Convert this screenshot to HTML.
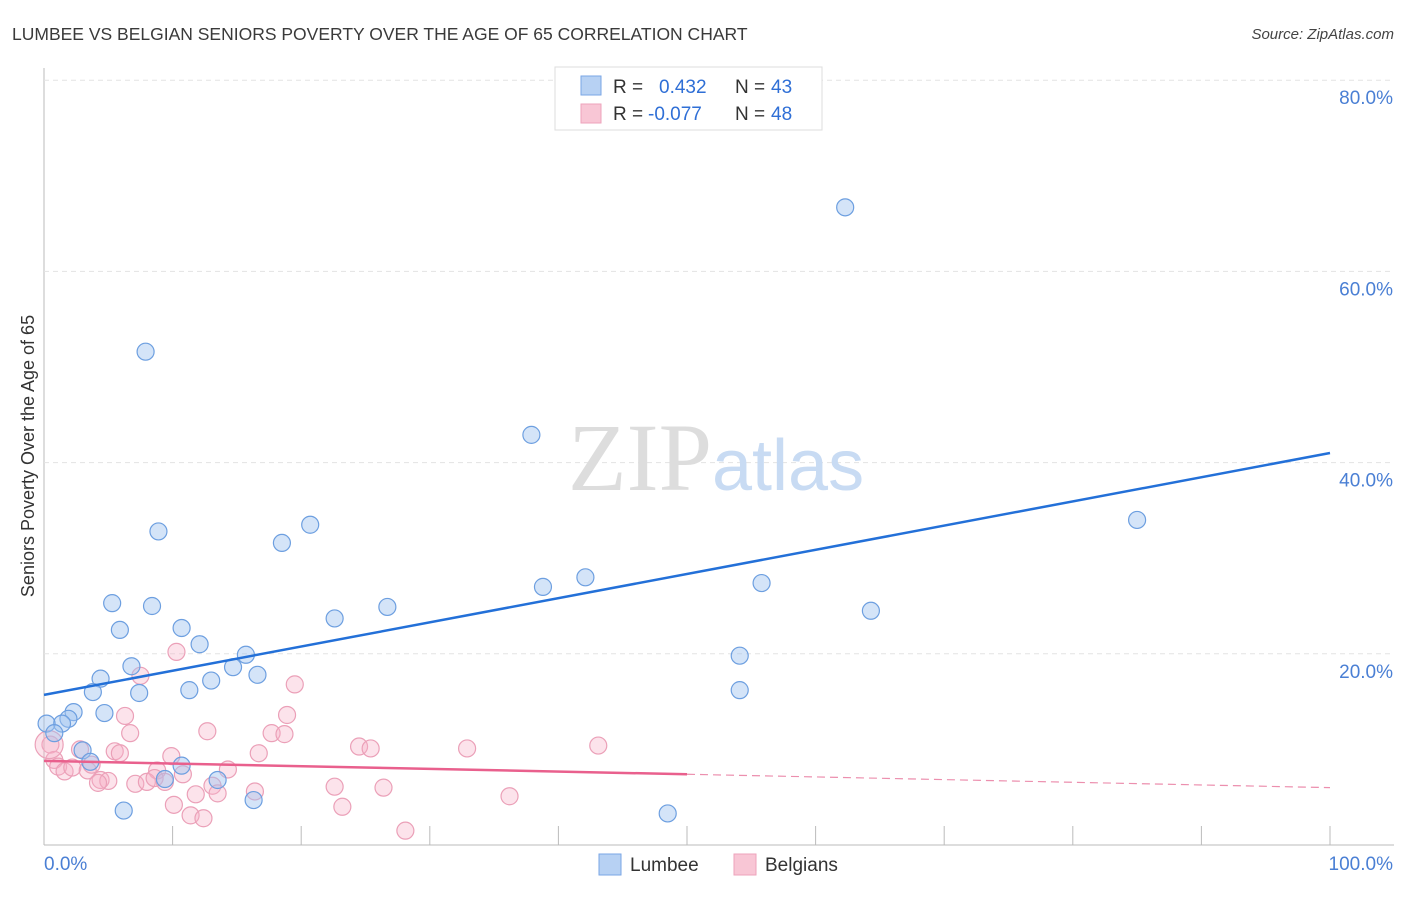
<!DOCTYPE html>
<html><head><meta charset="utf-8"><style>
body{margin:0;background:#fff;font-family:"Liberation Sans",sans-serif}
</style></head><body>
<svg width="1406" height="892" viewBox="0 0 1406 892" xmlns="http://www.w3.org/2000/svg">
<text x="12" y="40" font-size="17.5" fill="#3a3a3a">LUMBEE VS BELGIAN SENIORS POVERTY OVER THE AGE OF 65 CORRELATION CHART</text>
<text x="1394" y="39" font-size="15" fill="#444" font-style="italic" text-anchor="end">Source: ZipAtlas.com</text>
<g id="grid"></g>
<text x="712" y="490" font-size="96" fill="#ddd" text-anchor="end" font-family="Liberation Serif">ZIP</text>
<text x="712" y="490" font-size="72" fill="#c8dbf3">atlas</text>
<text transform="translate(34,456) rotate(-90)" font-size="18" fill="#333" text-anchor="middle">Seniors Poverty Over the Age of 65</text>
<g id="pts"></g>
<g id="lines"></g>
<g>
<rect x="555" y="67" width="267" height="63" fill="#fff" stroke="#ddd"/>
<rect x="581" y="76" width="20" height="19" fill="#b7d1f3" stroke="#7aa6e6"/>
<rect x="581" y="104" width="20" height="19" fill="#f8c6d5" stroke="#eea3bb"/>
<text x="613" y="93" font-size="19" fill="#333">R =</text>
<text x="659" y="93" font-size="19" fill="#2f6fd6">0.432</text>
<text x="735" y="93" font-size="19" fill="#333">N =</text>
<text x="771" y="93" font-size="19" fill="#2f6fd6">43</text>
<text x="613" y="120" font-size="19" fill="#333">R =</text>
<text x="648" y="120" font-size="19" fill="#2f6fd6">-0.077</text>
<text x="735" y="120" font-size="19" fill="#333">N =</text>
<text x="771" y="120" font-size="19" fill="#2f6fd6">48</text>
</g>
<g>
<rect x="599" y="854" width="22" height="21" fill="#b7d1f3" stroke="#7aa6e6"/>
<text x="630" y="871" font-size="19" fill="#333">Lumbee</text>
<rect x="734" y="854" width="22" height="21" fill="#f8c6d5" stroke="#eea3bb"/>
<text x="765" y="871" font-size="19" fill="#333">Belgians</text>
</g>
</svg>
<script>
const yTicks=[20,40,60,80];
const xTickLabels=["0.0%","100.0%"];
const lumbeeX=[7.9,62.3,37.9,85.0,8.9,20.7,18.5,38.8,42.1,55.8,64.3,5.3,8.4,22.6,26.7,5.9,10.7,12.1,15.7,6.8,54.1,14.7,16.6,4.4,13.0,3.8,7.4,11.3,54.1,2.3,4.7,1.9,1.4,0.2,0.8,3.0,3.6,10.7,9.4,13.5,16.3,6.2,48.5];
const lumbeeY=[51.6,66.7,42.9,34.0,32.8,33.5,31.6,27.0,28.0,27.4,24.5,25.3,25.0,23.7,24.9,22.5,22.7,21.0,19.9,18.7,19.8,18.6,17.8,17.4,17.2,16.0,15.9,16.2,16.2,13.9,13.8,13.2,12.7,12.7,11.7,9.9,8.7,8.3,6.9,6.8,4.7,3.6,3.3];
const belgX=[7.5,10.3,19.5,6.3,12.7,18.9,17.7,18.7,6.7,0.5,2.8,5.5,5.9,9.9,16.7,24.5,25.4,32.9,43.1,0.8,1.1,1.6,2.2,3.4,3.7,8.8,10.8,14.3,4.4,5.0,4.2,7.1,8.0,8.6,9.4,13.1,13.5,16.4,22.6,26.4,11.8,10.1,23.2,36.2,11.4,12.4,28.1,0.4];
const belgY=[17.7,20.2,16.8,13.5,11.9,13.6,11.7,11.6,11.7,10.5,10.0,9.8,9.6,9.3,9.6,10.3,10.1,10.1,10.4,8.9,8.2,7.7,8.1,7.8,8.4,7.8,7.4,7.9,6.8,6.7,6.5,6.4,6.6,7.0,6.6,6.2,5.4,5.6,6.1,6.0,5.3,4.2,4.0,5.1,3.1,2.8,1.5,10.5];
const lumbeeTrend=[15.7,41.0];
const belgTrend=[8.8,6.0];
const NS="http://www.w3.org/2000/svg";
const X=v=>44+v*12.86, Y=v=>845-v*9.56;
function mk(t,a,p){const e=document.createElementNS(NS,t);for(const k in a)e.setAttribute(k,a[k]);p.appendChild(e);return e;}
const grid=document.getElementById('grid');
mk('line',{x1:44,y1:68,x2:44,y2:845,stroke:'#bbb'},grid);
mk('line',{x1:44,y1:845,x2:1394,y2:845,stroke:'#bbb'},grid);
for(let i=0;i<=10;i++){const l=mk('line',{x1:X(i*10),y1:826,x2:X(i*10),y2:845,stroke:'#bbb'},grid);

}
yTicks.forEach(v=>{const l=mk('line',{x1:44,y1:Y(v),x2:1394,y2:Y(v),stroke:'#e3e3e3','stroke-dasharray':'5,4'},grid);


const t=mk('text',{x:1393,y:Y(v)+24,'font-size':19,fill:'#4a7fd4','text-anchor':'end'},grid);t.textContent=v.toFixed(1)+'%';

});
let t0=mk('text',{x:44,y:870,'font-size':19,fill:'#4a7fd4'},grid);t0.textContent=xTickLabels[0];


let t1=mk('text',{x:1393,y:870,'font-size':19,fill:'#4a7fd4','text-anchor':'end'},grid);t1.textContent=xTickLabels[1];


const pts=document.getElementById('pts');
belgX.forEach((x,i)=>{const c=mk('circle',{cx:X(x),cy:Y(belgY[i]),r:i==belgX.length-1?14:8.5,fill:'rgba(246,175,198,0.35)',stroke:'#eba0b8','stroke-width':1.2},pts);

});
lumbeeX.forEach((x,i)=>{const c=mk('circle',{cx:X(x),cy:Y(lumbeeY[i]),r:8.5,fill:'rgba(160,196,240,0.45)',stroke:'#6d9fe0','stroke-width':1.2},pts);

});
const ln=document.getElementById('lines');
let a=mk('line',{x1:X(0),y1:Y(lumbeeTrend[0]),x2:X(100),y2:Y(lumbeeTrend[1]),stroke:'#2370d8','stroke-width':2.5},ln);


const bm=(belgTrend[0]+belgTrend[1])/2;
let b=mk('line',{x1:X(0),y1:Y(belgTrend[0]),x2:X(50),y2:Y(bm),stroke:'#e9608d','stroke-width':2.5},ln);


let c=mk('line',{x1:X(50),y1:Y(bm),x2:X(100),y2:Y(belgTrend[1]),stroke:'#ec8fae','stroke-width':1.2,'stroke-dasharray':'8,5'},ln);


</script>
</body></html>
